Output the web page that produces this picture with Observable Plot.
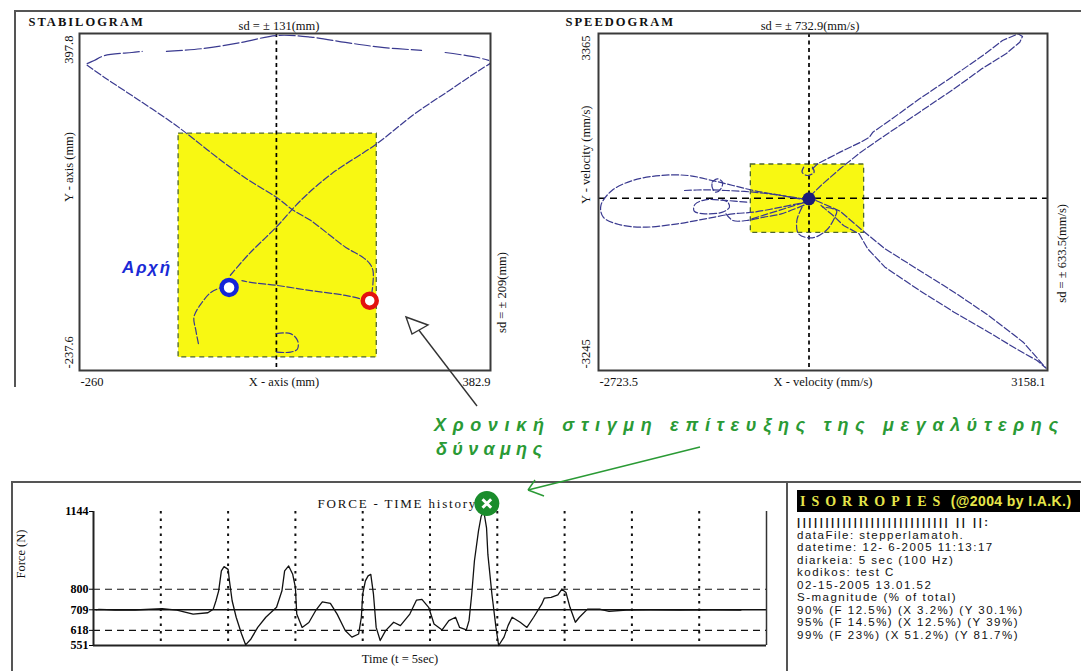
<!DOCTYPE html>
<html><head><meta charset="utf-8">
<script src="https://cdn.jsdelivr.net/npm/d3@7"></script>
<script src="https://cdn.jsdelivr.net/npm/@observablehq/plot@0.6"></script>
<style>
body{margin:0;background:#fff;}
#page{position:relative;width:1081px;height:671px;overflow:hidden;background:#fff;font-family:"Liberation Serif",serif;}
#info{position:absolute;left:787px;top:482px;width:294px;height:189px;}
#banner{position:absolute;left:10px;top:8px;width:283px;height:22px;background:#000;color:#e6e64a;font-weight:bold;white-space:nowrap;line-height:22px;}
#banner .a{font-family:"Liberation Serif",serif;font-size:14px;letter-spacing:6px;padding-left:3px;}
#banner .b{font-family:"Liberation Sans",sans-serif;font-size:14px;letter-spacing:0.4px;}
#lines{position:absolute;left:10px;top:34px;font-family:"Liberation Sans",sans-serif;font-size:11.5px;line-height:12.5px;letter-spacing:1.5px;color:#111;white-space:pre;}
#lines .bar{font-weight:bold;letter-spacing:2.6px;font-size:11px;}
</style></head>
<body><div id="page"></div>
<script>
// ---------------- DATA ----------------
// Stabilogram (mm)
const stabXTicks = ["-260", "382.9"];
const stabYTicks = ["397.8", "-237.6"];
const stabDomainX = [-260, 382.9];
const stabDomainY = [-237.6, 397.8];
const stabMeanX = 48;
const stabBox = {x1: -105, x2: 205, y1: -213, y2: 209};
const stabStart = [-26, -81];
const stabPeak = [194, -106];
const stabSegA = [[-74,-187],[-78,-162],[-81,-137],[-70,-112],[-54,-90],[-38,-81]];
const stabSegB = [[-24,-58],[5,-18],[48,33],[86,83],[134,133],[205,190],[264,246],[318,290],[361,325],[382,341]];
const stabTop1 = [[-248,341],[-237,347],[-221,356],[-178,362],[-162,364]];
const stabTop2 = [[-124,364],[-70,369],[-6,381],[48,394],[102,391],[156,381],[210,372],[275,366]];
const stabTop3 = [[312,362],[361,353],[380,347]];
const stabSegC = [[-248,338],[-221,315],[-167,272],[-113,228],[-92,209],[-38,158],[5,121],[48,89],[75,64],[102,45],[129,20],[156,-5],[183,-24],[194,-36],[199,-49],[199,-74],[197,-93]];
const stabSegD = [[178,-102],[156,-96],[102,-87],[48,-77],[5,-71],[-6,-68]];
const stabHook = [[48,-168],[70,-168],[81,-181],[81,-197],[70,-203],[48,-203]];

// Speedogram (mm/s)
const spdXTicks = ["-2723.5", "3158.1"];
const spdYTicks = ["3365", "-3245"];
const spdDomainX = [-2723.5, 3158.1];
const spdDomainY = [-3245, 3365];
const spdMean = {x: 34, y: 135};
const spdBox = {x1: -728, x2: 756, y1: -545, y2: 796};
const spdCenter = [33, 122];
const spdUR = [[78,711],[146,809],[441,1038],[712,1234],[825,1332],[871,1430],[1120,1691],[1482,2084],[1935,2541],[2342,2966],[2568,3228],[2772,3358],[2831,3306],[2795,3195],[2614,2966],[2297,2672],[1935,2280],[1482,1822],[1029,1364],[712,1038],[441,711],[214,416],[78,220]];
const spdLR = [[124,90],[441,-120],[735,-499],[1029,-858],[1482,-1283],[1935,-1708],[2387,-2166],[2840,-2689],[3140,-3200],[3021,-3049],[2749,-2820],[2387,-2493],[1935,-2101],[1482,-1676],[1029,-1218],[803,-858],[690,-564],[486,-401],[350,-205],[192,-8]];
const spdLeft = [[33,90],[-329,188],[-691,286],[-963,384],[-1235,482],[-1551,580],[-1914,580],[-2276,482],[-2547,286],[-2692,-9],[-2661,-237],[-2457,-381],[-2140,-434],[-1687,-368],[-1325,-270],[-963,-172],[-691,-139],[-329,-41],[-12,57]];
const spdL2 = [[-1597,286],[-1325,299],[-1053,286],[-691,253],[-329,188],[33,103]];
const spdL3 = [[-1235,449],[-1167,514],[-1099,449],[-1121,318],[-1189,253],[-1235,351],[-1235,449]];
const spdL4 = [[-782,57],[-1053,90],[-1325,103],[-1461,11],[-1470,-120],[-1325,-172],[-1099,-139],[-1008,-41],[-1031,57],[-1099,103]];
const spdL5 = [[-1053,-172],[-963,-303],[-782,-303],[-555,-237],[-329,-172],[-12,11]];
const spdLow = [[-57,-41],[-125,-303],[-103,-564],[78,-643],[259,-499],[373,-237],[395,-106],[214,-41]];
const spdTopLoop = [[-35,743],[-57,645],[11,580],[101,645],[78,743]];
const spdCross = [[-714,-270],[124,122]];

// Force-time (s, N)
const forceTickValues = [1144, 800, 709, 618, 551];
const forceMean = 709;
const forceSd = [800, 618];
const forceGrid = [0.5, 1, 1.5, 2, 2.5, 3, 3.5, 4, 4.5];
const forcePeak = [2.9, 1144];
const forceSeries = [[0.02,709],[0.04,711],[0.16,708],[0.23,709],[0.31,708],[0.51,714],[0.62,708],[0.74,690],[0.85,696],[0.89,712],[0.91,749],[0.93,793],[0.95,881],[0.97,900],[1.00,888],[1.01,837],[1.03,749],[1.06,676],[1.10,602],[1.13,554],[1.17,580],[1.22,631],[1.28,676],[1.36,720],[1.40,793],[1.42,881],[1.45,903],[1.48,866],[1.50,808],[1.51,690],[1.55,631],[1.60,653],[1.65,705],[1.70,744],[1.76,737],[1.81,690],[1.87,617],[1.92,588],[1.97,602],[1.99,676],[2.00,778],[2.02,837],[2.04,859],[2.06,866],[2.08,778],[2.10,631],[2.13,573],[2.17,617],[2.23,654],[2.28,639],[2.35,690],[2.40,752],[2.44,755],[2.49,720],[2.53,646],[2.59,620],[2.64,661],[2.69,676],[2.72,631],[2.77,620],[2.79,661],[2.81,778],[2.83,925],[2.86,1057],[2.88,1123],[2.90,1144],[2.92,1072],[2.93,954],[2.96,778],[2.99,631],[3.01,551],[3.05,588],[3.08,639],[3.11,676],[3.17,654],[3.22,631],[3.27,676],[3.33,734],[3.35,761],[3.40,764],[3.45,775],[3.48,800],[3.51,786],[3.54,720],[3.58,654],[3.61,676],[3.67,712],[3.76,712],[3.83,702],[3.96,708],[4.14,709],[4.35,708],[4.60,709],[4.81,708]];

// Info panel text
const infoTitleA = "ISORROPIES";
const infoTitleB = " (@2004 by I.A.K.)";
const infoBars = "||||||||||||||||||||||||||| || ||:";
const infoLines = [
  "dataFile: stepperlamatoh.",
  "datetime: 12- 6-2005 11:13:17",
  "diarkeia: 5 sec (100 Hz)",
  "kodikos: test C",
  "02-15-2005 13.01.52",
  "S-magnitude (% of total)",
  "90% (F 12.5%) (X 3.2%) (Y 30.1%)",
  "95% (F 14.5%) (X 12.5%) (Y 39%)",
  "99% (F 23%) (X 51.2%) (Y 81.7%)"
];
const noteLine1 = "Χρονική στιγμη επίτευξης της μεγαλύτερης";
const noteLine2 = "δύναμης";
const startLabel = "Αρχή";

// ---------------- HELPERS ----------------
const YELLOW = "#f8f812";
const PATH = "#3a3a90";
const rows = (segs) => segs.flatMap(([name, pts]) => pts.map(([x, y]) => ({x, y, seg: name})));
const T = (str, o) => Plot.text([str], {text: d => d, lineAnchor: "middle", ...o});
const page = document.getElementById("page");
function place(svg, left, top) {
  svg.style.position = "absolute";
  svg.style.left = left + "px";
  svg.style.top = top + "px";
  svg.style.maxWidth = "none";
  svg.style.background = "transparent";
  page.appendChild(svg);
}
function spacing(svg, str, ls) {
  d3.select(svg).selectAll("text").filter(function () { return this.textContent === str; }).style("letter-spacing", ls + "px");
}
const fontBase = {fontFamily: "Liberation Serif", fontSize: 12.5, fill: "#111"};

// ---------------- STABILOGRAM ----------------
const stab = Plot.plot({
  width: 540, height: 400,
  marginLeft: 79, marginRight: 50, marginTop: 33, marginBottom: 30,
  x: {domain: stabDomainX, axis: null},
  y: {domain: stabDomainY, axis: null},
  style: {background: "transparent", overflow: "visible"},
  marks: [
    Plot.rect([stabBox], {x1: "x1", x2: "x2", y1: "y1", y2: "y2", fill: YELLOW, stroke: "#4e6630", strokeWidth: 1.3, strokeDasharray: "5,4"}),
    Plot.ruleX([stabMeanX], {stroke: "#000", strokeWidth: 1.7, strokeDasharray: "4,3.5"}),
    Plot.line(rows([["A", stabSegA], ["B", stabSegB], ["C", stabSegC], ["D", stabSegD], ["H", stabHook]]),
      {x: "x", y: "y", z: "seg", stroke: PATH, strokeWidth: 1.2, strokeDasharray: "7,2.5", curve: "catmull-rom"}),
    Plot.line(rows([["T1", stabTop1], ["T2", stabTop2], ["T3", stabTop3]]),
      {x: "x", y: "y", z: "seg", stroke: PATH, strokeWidth: 1.2, strokeDasharray: "16,3", curve: "catmull-rom"}),
    Plot.dot([stabStart], {x: d => d[0], y: d => d[1], r: 7.5, stroke: "#1424d8", strokeWidth: 4.5, fill: "#fff"}),
    Plot.dot([stabPeak], {x: d => d[0], y: d => d[1], r: 7, stroke: "#e3120f", strokeWidth: 4.5, fill: "#fff"}),
    Plot.text([stabStart], {x: d => d[0], y: d => d[1], text: () => startLabel, dx: -82, dy: -20, fill: "#1a2ad6", fontFamily: "Liberation Sans", fontSize: 17, fontWeight: "bold", fontStyle: "italic"}),
    Plot.frame({stroke: "#3a3a3a", strokeWidth: 2}),
    T("STABILOGRAM", {...fontBase, frameAnchor: "top-left", textAnchor: "start", dx: -51, dy: -12, fontWeight: "bold", fontSize: 12.5}),
    T("sd = ± 131(mm)", {...fontBase, frameAnchor: "top", dx: -6, dy: -8}),
    T(stabXTicks[0], {...fontBase, frameAnchor: "bottom-left", textAnchor: "start", dx: 1, dy: 11}),
    T(stabXTicks[1], {...fontBase, frameAnchor: "bottom-right", textAnchor: "end", dx: 0, dy: 11}),
    T("X - axis (mm)", {...fontBase, frameAnchor: "bottom", dx: -1, dy: 11}),
    T(stabYTicks[0], {...fontBase, frameAnchor: "top-left", textAnchor: "end", rotate: -90, dx: -11, dy: 2}),
    T(stabYTicks[1], {...fontBase, frameAnchor: "bottom-left", textAnchor: "start", rotate: -90, dx: -11, dy: -2}),
    T("Y - axis (mm)", {...fontBase, frameAnchor: "left", rotate: -90, dx: -11, dy: 0}),
    T("sd = ± 209(mm)", {...fontBase, frameAnchor: "right", rotate: -90, dx: 11, dy: 50})
  ]
});
spacing(stab, "STABILOGRAM", 2);
spacing(stab, startLabel, 2);
place(stab, 0, 0);

// ---------------- SPEEDOGRAM ----------------
const spd = Plot.plot({
  width: 541, height: 400,
  marginLeft: 58, marginRight: 34, marginTop: 33, marginBottom: 30,
  x: {domain: spdDomainX, axis: null},
  y: {domain: spdDomainY, axis: null},
  style: {background: "transparent", overflow: "visible"},
  marks: [
    Plot.rect([spdBox], {x1: "x1", x2: "x2", y1: "y1", y2: "y2", fill: YELLOW, stroke: "#4e6630", strokeWidth: 1.3, strokeDasharray: "5,4"}),
    Plot.ruleX([spdMean.x], {stroke: "#000", strokeWidth: 1.7, strokeDasharray: "4,3.5"}),
    Plot.ruleY([spdMean.y], {stroke: "#000", strokeWidth: 1.5, strokeDasharray: "7,5"}),
    Plot.line(rows([["UR", spdUR], ["LR", spdLR], ["X", spdCross]]),
      {x: "x", y: "y", z: "seg", stroke: PATH, strokeWidth: 1.2, strokeDasharray: "7,2.5"}),
    Plot.line(rows([["L", spdLeft], ["L2", spdL2], ["L3", spdL3], ["L4", spdL4], ["L5", spdL5], ["LO", spdLow], ["TL", spdTopLoop]]),
      {x: "x", y: "y", z: "seg", stroke: PATH, strokeWidth: 1.2, strokeDasharray: "7,2.5", curve: "catmull-rom"}),
    Plot.dot([spdCenter], {x: d => d[0], y: d => d[1], r: 6.5, fill: "#1c1c78"}),
    Plot.frame({stroke: "#3a3a3a", strokeWidth: 2}),
    T("SPEEDOGRAM", {...fontBase, frameAnchor: "top-left", textAnchor: "start", dx: -33, dy: -12, fontWeight: "bold", fontSize: 12.5}),
    T("sd = ± 732.9(mm/s)", {...fontBase, frameAnchor: "top", dx: -13, dy: -8}),
    T(spdXTicks[0], {...fontBase, frameAnchor: "bottom-left", textAnchor: "start", dx: 1, dy: 11}),
    T(spdXTicks[1], {...fontBase, frameAnchor: "bottom-right", textAnchor: "end", dx: -2, dy: 11}),
    T("X - velocity (mm/s)", {...fontBase, frameAnchor: "bottom", dx: 0, dy: 11}),
    T(spdYTicks[0], {...fontBase, frameAnchor: "top-left", textAnchor: "end", rotate: -90, dx: -13, dy: 2}),
    T(spdYTicks[1], {...fontBase, frameAnchor: "bottom-left", textAnchor: "start", rotate: -90, dx: -13, dy: -2}),
    T("Y - velocity (mm/s)", {...fontBase, frameAnchor: "left", rotate: -90, dx: -13, dy: 2}),
    T("sd = ± 633.5(mm/s)", {...fontBase, frameAnchor: "right", rotate: -90, dx: 14, dy: 2})
  ]
});
spacing(spd, "SPEEDOGRAM", 2);
place(spd, 540, 0);

// ---------------- FORCE - TIME ----------------
const force = Plot.plot({
  width: 787, height: 189,
  marginLeft: 93, marginRight: 21, marginTop: 29, marginBottom: 26,
  x: {domain: [0, 5], axis: null},
  y: {domain: [551, 1144], axis: null},
  style: {background: "transparent", overflow: "visible"},
  marks: [
    Plot.ruleX(forceGrid, {stroke: "#111", strokeWidth: 2, strokeDasharray: "2.5,5"}),
    Plot.ruleY(forceSd, {stroke: "#111", strokeWidth: 1.2, strokeDasharray: "7,5"}),
    Plot.ruleY([forceMean], {stroke: "#111", strokeWidth: 1.5}),
    Plot.ruleY([551], {stroke: "#222", strokeWidth: 2}),
    Plot.ruleX([0], {stroke: "#222", strokeWidth: 2}),
    Plot.ruleX([5], {stroke: "#333", strokeWidth: 1.5}),
    Plot.line(forceSeries, {x: d => d[0], y: d => d[1], stroke: "#111", strokeWidth: 1.3}),
    Plot.axisY(forceTickValues, {tickSize: 4, tickPadding: 1, fontSize: 12, fontFamily: "Liberation Serif", fontWeight: "bold", label: null, tickFormat: d => String(d)}),
    T("FORCE - TIME history", {...fontBase, fontSize: 13, frameAnchor: "top-left", textAnchor: "start", dx: 224, dy: -8}),
    Plot.dot([forcePeak], {x: d => d[0], y: d => d[1], dx: 3, dy: -8, r: 12.5, fill: "#1a8c2c"}),
    Plot.dot([forcePeak], {x: d => d[0], y: d => d[1], dx: 3, dy: -8, r: 4, symbol: "times", stroke: "#fff", strokeWidth: 3}),
    T("Force (N)", {...fontBase, frameAnchor: "left", rotate: -90, dx: -73, dy: 0}),
    T("Time (t = 5sec)", {...fontBase, frameAnchor: "bottom", dx: -30, dy: 13})
  ]
});
spacing(force, "FORCE - TIME history", 1.8);
// draw the green peak marker above the title text
{
  const sel = d3.select(force);
  const dots = sel.selectAll("g[aria-label='dot']").nodes();
  dots.forEach(n => n.parentNode.appendChild(n));
}
place(force, 0, 482);

// ---------------- INFO PANEL ----------------
const info = document.createElement("div");
info.id = "info";
info.innerHTML = `<div id="banner"><span class="a">${infoTitleA}</span><span class="b">${infoTitleB}</span></div>` +
  `<div id="lines"><span class="bar">${infoBars}</span>\n${infoLines.join("\n")}</div>`;
page.appendChild(info);

// ---------------- ANNOTATION OVERLAY ----------------
const ov = d3.create("svg").attr("width", 1081).attr("height", 671)
  .style("position", "absolute").style("left", "0px").style("top", "0px").style("pointer-events", "none");
const ln = (x1, y1, x2, y2, c, w) => ov.append("line").attr("x1", x1).attr("y1", y1).attr("x2", x2).attr("y2", y2).attr("stroke", c).attr("stroke-width", w);
// panel borders
ln(14, 11, 1081, 11, "#555", 2);
ln(15, 10, 15, 387, "#555", 2);
ln(11, 482, 1081, 482, "#555", 2);
ln(12, 481, 12, 671, "#555", 2);
ln(787, 481, 787, 671, "#555", 2);
// black arrow
ln(477, 406, 418, 329, "#333", 1.4);
ov.append("polygon").attr("points", "406,317 428,325 412,334").attr("fill", "#fff").attr("stroke", "#333").attr("stroke-width", 1.4);
// green annotation
const G = "#2a9a35";
ov.append("text").attr("x", 434).attr("y", 431).attr("textLength", 624).attr("lengthAdjust", "spacing")
  .attr("font-family", "Liberation Sans").attr("font-size", 18).attr("font-style", "italic").attr("font-weight", "bold").attr("fill", G).text(noteLine1);
ov.append("text").attr("x", 436).attr("y", 455).attr("textLength", 106).attr("lengthAdjust", "spacing")
  .attr("font-family", "Liberation Sans").attr("font-size", 18).attr("font-style", "italic").attr("font-weight", "bold").attr("fill", G).text(noteLine2);
ln(700, 447, 528, 490, G, 1.4);
ln(528, 490, 535, 480, G, 1.4);
ln(528, 490, 544, 496, G, 1.4);
page.appendChild(ov.node());
</script></body></html>
